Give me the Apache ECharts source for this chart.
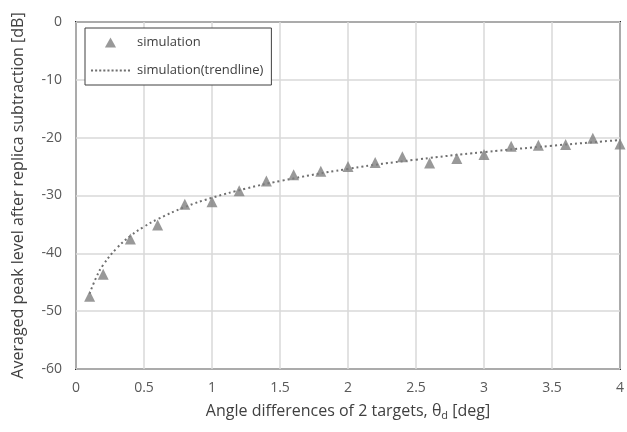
<!DOCTYPE html>
<html><head><meta charset="utf-8">
<script src="https://cdn.jsdelivr.net/npm/echarts@6/dist/echarts.min.js"></script>
<style>html,body{margin:0;padding:0;background:#fff}#c{width:627px;height:432px}</style>
</head><body><div id="c"></div>
<script>
const simX = [0.1,0.2,0.4,0.6,0.8,1.0,1.2,1.4,1.6,1.8,2.0,2.2,2.4,2.6,2.8,3.0,3.2,3.4,3.6,3.8,4.0];
const simY = [-47.4,-43.6,-37.5,-35.1,-31.5,-31.1,-29.2,-27.5,-26.4,-25.8,-25.0,-24.3,-23.3,-24.4,-23.6,-22.9,-21.5,-21.3,-21.2,-20.1,-21.1];
const trendX = [0.1,0.15,0.2,0.3,0.4,0.5,0.6,0.8,1.0,1.25,1.5,2.0,2.5,3.0,3.5,4.0];
const trendY = [-47.0,-44.1,-42.0,-39.1,-37.0,-35.4,-34.1,-32.0,-30.4,-28.8,-27.5,-25.4,-23.8,-22.5,-21.4,-20.4];
const xTicks = {min:0,max:4,interval:0.5};
const yTicks = {min:-60,max:0,interval:10};

const font = '"Open Sans", "Noto Sans", sans-serif';
let dots = '';
for (let i = 0; i < 10; i++) dots += 'M' + (i*4) + ',0h2v2h-2z';
const chart = echarts.init(document.getElementById('c'), null, {renderer:'canvas'});
chart.setOption({
  animation:false,
  textStyle:{fontFamily:font},
  grid:{left:76,right:3,top:22,bottom:63,show:true,borderColor:'#262626',borderWidth:2,backgroundColor:'transparent'},
  legend:{
    left:85, top:28, orient:'vertical', itemGap:15, itemWidth:39, itemHeight:10,
    padding:[8,8,8,6], borderColor:'#404040', borderWidth:1, backgroundColor:'#fff',
    textStyle:{fontFamily:font,fontSize:13,color:'#404040',padding:[0,0,0,2]},
    data:[
      {name:'simulation',icon:'path://M5,0L10,9L0,9Z',itemStyle:{color:'#7f7f7f'}},
      {name:'simulation(trendline)',icon:'path://'+dots,itemStyle:{color:'#6f6f6f'}}
    ]
  },
  xAxis:{type:'value',min:xTicks.min,max:xTicks.max,interval:xTicks.interval,
    name:'Angle differences of 2 targets, {a|θ}{s|d} {a|[deg]}',
    nameLocation:'middle',nameGap:33,
    nameTextStyle:{fontFamily:font,fontSize:16,color:'#404040',
      rich:{a:{fontFamily:font,fontSize:16,color:'#404040'},s:{fontFamily:font,fontSize:11,color:'#404040',verticalAlign:'bottom',padding:[8,0,0,0]}}},
    axisLine:{show:false},axisTick:{show:false},
    axisLabel:{fontFamily:font,fontSize:14,color:'#595959',margin:12},
    splitLine:{show:true,lineStyle:{color:'#d9d9d9',width:1.5}}},
  yAxis:{type:'value',min:yTicks.min,max:yTicks.max,interval:yTicks.interval,
    name:'Averaged peak level after replica subtraction [dB]',
    nameLocation:'middle',nameGap:50,
    nameTextStyle:{fontFamily:font,fontSize:16,color:'#404040'},
    axisLine:{show:false},axisTick:{show:false},
    axisLabel:{fontFamily:font,fontSize:14,color:'#595959',margin:14},
    splitLine:{show:true,lineStyle:{color:'#d9d9d9',width:1.5}}},
  series:[
    {name:'simulation',type:'scatter',symbol:'triangle',symbolSize:11,
     itemStyle:{color:'#7f7f7f'},z:3,
     data:simX.map((x,i)=>[x,simY[i]])},
    {name:'simulation(trendline)',type:'line',smooth:true,showSymbol:false,symbol:'none',
     lineStyle:{color:'#6f6f6f',width:2,type:[2,3]},itemStyle:{color:'#6f6f6f'},z:2,
     data:trendX.map((x,i)=>[x,trendY[i]])}
  ]
});
</script></body></html>
